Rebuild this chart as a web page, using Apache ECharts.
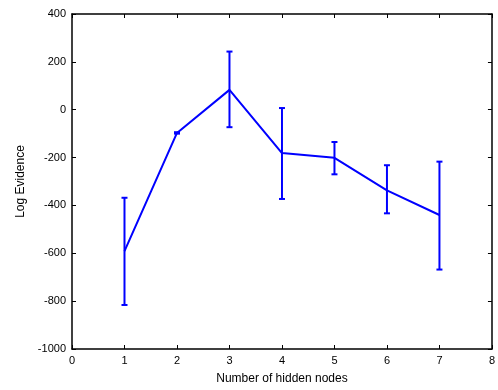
<!DOCTYPE html>
<html>
<head>
<meta charset="utf-8">
<script src="https://cdn.jsdelivr.net/npm/echarts@6/dist/echarts.min.js"></script>
<style>
  html, body { margin: 0; padding: 0; background: #fff; }
  #chart { width: 498px; height: 390px; }
</style>
</head>
<body>
<div id="chart"></div>
<script>
// hidden nodes vs. log evidence (mean, with +/- error)
const nodes = [1, 2, 3, 4, 5, 6, 7];
const meanEvidence = [-591, -97, 83, -181, -201, -337, -440];
const upperEvidence = [-368, -94, 243, 7, -135, -232, -217];
const lowerEvidence = [-816, -100, -73, -373, -270, -433, -668];

const blue = "#0000ff";
const font = "Liberation Sans, Arial, sans-serif";

const chart = echarts.init(document.getElementById("chart"));

const errData = nodes.map((n, i) => [n, lowerEvidence[i], upperEvidence[i]]);

const frameLine = { show: true, onZero: false, lineStyle: { color: "#000", width: 1.5 } };
const frameTick = { show: true, inside: true, length: 4, lineStyle: { color: "#000", width: 1 } };

chart.setOption({
  animation: false,
  grid: { left: 72, right: 2, top: 14, bottom: 39 },
  xAxis: [
    {
      type: "value", min: 0, max: 8, interval: 1,
      axisLine: frameLine,
      axisTick: frameTick,
      axisLabel: { color: "#000", fontFamily: font, fontSize: 11, margin: 6 },
      splitLine: { show: false },
      name: "Number of hidden nodes", nameLocation: "middle", nameGap: 24,
      nameTextStyle: { color: "#000", fontFamily: font, fontSize: 12 }
    },
    {
      type: "value", min: 0, max: 8, interval: 1, position: "top",
      axisLine: frameLine,
      axisTick: frameTick,
      axisLabel: { show: false },
      splitLine: { show: false }
    }
  ],
  yAxis: [
    {
      type: "value", min: -1000, max: 400, interval: 200,
      axisLine: frameLine,
      axisTick: frameTick,
      axisLabel: {
        color: "#000", fontFamily: font, fontSize: 11, margin: 6,
        formatter: function (v) { return String(v); }
      },
      splitLine: { show: false },
      name: "Log Evidence", nameLocation: "middle", nameGap: 41, nameRotate: 90,
      nameTextStyle: { color: "#000", fontFamily: font, fontSize: 12 }
    },
    {
      type: "value", min: -1000, max: 400, interval: 200, position: "right",
      axisLine: frameLine,
      axisTick: frameTick,
      axisLabel: { show: false },
      splitLine: { show: false }
    }
  ],
  series: [
    {
      type: "line",
      data: nodes.map((n, i) => [n, meanEvidence[i]]),
      symbol: "none",
      lineStyle: { color: blue, width: 2 },
      z: 3
    },
    {
      type: "custom",
      data: errData,
      renderItem: function (params, api) {
        const x = api.value(0);
        const lo = api.coord([x, api.value(1)]);
        const hi = api.coord([x, api.value(2)]);
        const w = 3;
        const style = { stroke: blue, lineWidth: 2, fill: null };
        return {
          type: "group",
          children: [
            { type: "line", shape: { x1: lo[0], y1: lo[1], x2: hi[0], y2: hi[1] }, style: style },
            { type: "line", shape: { x1: lo[0] - w, y1: lo[1], x2: lo[0] + w, y2: lo[1] }, style: style },
            { type: "line", shape: { x1: hi[0] - w, y1: hi[1], x2: hi[0] + w, y2: hi[1] }, style: style }
          ]
        };
      },
      z: 4
    }
  ]
});
</script>
</body>
</html>
